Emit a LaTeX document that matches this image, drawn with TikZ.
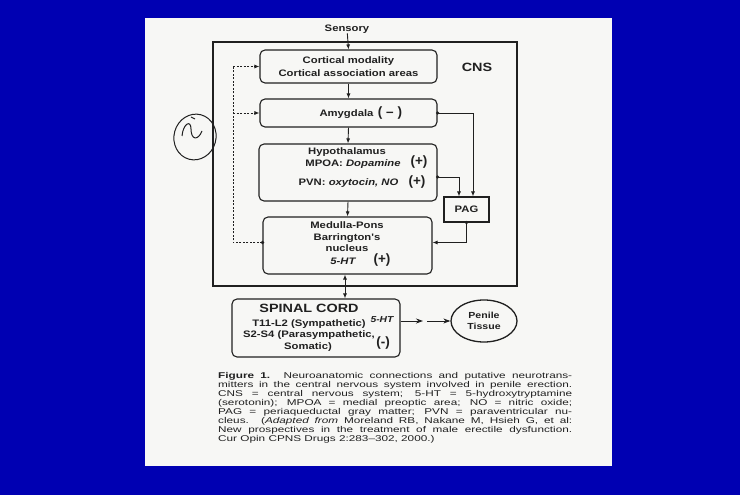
\documentclass[tikz,border=0pt]{standalone}
\usepackage{fontspec}
\setmainfont{Liberation Sans}
\newfontfamily\dfont{Liberation Sans}[FakeStretch=1.2]
\newfontfamily\capfont{Liberation Sans}[FakeStretch=1.4]
\usetikzlibrary{arrows.meta,shapes.geometric}
\definecolor{slideblue}{RGB}{0,0,178}
\definecolor{paper}{RGB}{247,247,245}
\definecolor{ink}{RGB}{32,32,32}
\tikzset{
  rbox/.style={draw=ink, line width=1.1pt, rounded corners=5pt, inner sep=0pt},
  sbox/.style={draw=ink, line width=1.1pt, inner sep=0pt},
  txt/.style={font=\dfont\bfseries\fontsize{9.4}{13}\selectfont, text=ink, inner sep=0pt, align=center},
  hand/.style={font=\bfseries\fontsize{13.5}{13.5}\selectfont, text=ink, inner sep=0pt},
  conn/.style={draw=ink, line width=0.9pt},
  arr/.style={conn, -{Latex[length=5pt,width=4pt]}},
  arrb/.style={conn, {Latex[length=5pt,width=4pt]}-{Latex[length=5pt,width=4pt]}},
  sarr/.style={conn, -{Stealth[length=7pt,width=5pt]}},
  darr/.style={conn, line width=0.8pt, dash pattern=on 2pt off 1.5pt, -{Latex[length=5pt,width=4pt]}},
  dline/.style={conn, line width=0.8pt, dash pattern=on 2pt off 1.5pt},
  dotc/.style={circle, fill=ink, inner sep=0pt, minimum size=3.6pt},
}
\begin{document}
\begin{tikzpicture}[x=1pt,y=-1pt]
\useasboundingbox (0,0) rectangle (740,495);
\fill[slideblue] (0,0) rectangle (740,495);
\fill[paper] (145,18) rectangle (612,466);

% CNS frame
\node[sbox, line width=2pt, minimum width=304pt, minimum height=244pt] (cns) at (365,164) {};
\node[txt, font=\dfont\bfseries\fontsize{12}{12}\selectfont] (cnslbl) at (477,67) {CNS};

% boxes
\node[txt] (sens) at (347,29) {Sensory};
\node[rbox, txt, minimum width=177pt, minimum height=33pt] (cort) at (348.5,66.5) {Cortical modality\\Cortical association areas};
\node[rbox, minimum width=177pt, minimum height=28pt] (amyg) at (348.5,113) {};
\node[rbox, minimum width=178pt, minimum height=57pt] (hypo) at (348,172.5) {};
\node[rbox, minimum width=169pt, minimum height=57pt] (med) at (347.5,245.5) {};
\node[sbox, txt, minimum width=45pt, minimum height=25pt] (pag) at (466.5,209.5) {PAG};
\node[rbox, minimum width=168pt, minimum height=58pt] (spinal) at (316,328) {};
\node[ellipse, draw=ink, line width=1.3pt, minimum width=66pt, minimum height=42pt, inner sep=0pt,
      txt, font=\dfont\bfseries\fontsize{8.8}{11}\selectfont] (pen) at (484,321) {Penile\\Tissue};

% texts inside boxes
\node[txt, anchor=mid] (amygt) at (346.5,114) {Amygdala};
\node[hand, anchor=mid] (amygh) at (390,114) {(\kern4pt–\kern4pt)};

\node[txt, anchor=mid] (hypot1) at (347,152) {Hypothalamus};
\node[txt, anchor=mid] (hypot2) at (353,164) {MPOA: \itshape Dopamine};
\node[txt, anchor=mid] (hypot3) at (348.5,183) {PVN: \itshape oxytocin, NO};
\node[hand, anchor=mid] (hypoh1) at (419,163) {(+)};
\node[hand, anchor=mid] (hypoh2) at (417,183) {(+)};

\node[txt, anchor=mid] (medt1) at (347,226) {Medulla-Pons};
\node[txt, anchor=mid] (medt2) at (347,238) {Barrington's};
\node[txt, anchor=mid] (medt3) at (347,249) {nucleus};
\node[txt, anchor=mid] (medt4) at (343,262) {\itshape 5-HT};
\node[hand, anchor=mid] (medh) at (382,261) {(+)};

\node[txt, anchor=mid, font=\dfont\bfseries\fontsize{12}{12}\selectfont] (spt1) at (309,310) {SPINAL CORD};
\node[txt, anchor=mid] (spt2) at (309,324) {T11-L2 (Sympathetic)};
\node[txt, anchor=mid] (spt3) at (309,335) {S2-S4 (Parasympathetic,};
\node[txt, anchor=mid] (spt4) at (308,347) {Somatic)};
\node[txt, anchor=mid, font=\dfont\bfseries\itshape\fontsize{8.6}{10}\selectfont] (sp5ht) at (382,320) {5-HT};
\node[hand, anchor=mid] (sph) at (383,344) {(-)};

% main vertical connectors
\draw[arr] (sens) -- (cort.north);
\draw[arr] (cort.south) -- (amyg.north);
\draw[arr] (amyg.south) -- (hypo.north);
\draw[arr] (hypo.south) -- (med.north);
\draw[arrb] ([xshift=-2.5pt]med.south) -- ([xshift=-2.5pt]med.south |- spinal.north);

% right side to PAG
\draw[arr] (amyg.east) -| ([xshift=6.5pt]pag.north);
\node[dotc] (d1) at (amyg.east) {};
\draw[arr] ([yshift=-4.5pt]hypo.east) -| ([xshift=-7.5pt]pag.north);
\node[dotc] (d2) at ([yshift=-4.5pt]hypo.east) {};
\draw[arr] (pag.south) |- ([yshift=3pt]med.east);
\node[dotc] (d3) at (pag.south) {};

% left dashed feedback
\coordinate (fbtop) at (233,66.5);
\coordinate (fbmid) at (233,113);
\draw[dline] ([yshift=3pt]med.west) -| (fbtop);
\draw[darr] (fbtop) -- (cort.west);
\draw[darr] (fbmid) -- (amyg.west);
\node[dotc] (d4) at ([yshift=3pt]med.west) {};

% spinal cord to penile tissue
\coordinate (m1) at (423,321);
\coordinate (m2) at (427,321);
\draw[sarr] ([yshift=7pt]spinal.east) -- (m1);
\draw[sarr] (m2) -- (pen.west);

% handwritten circled mark
\draw[ink, line width=1pt, rotate around={-15:(195,137)}] (195,137) ellipse [x radius=21pt, y radius=23pt];
\draw[ink, line width=1pt] (182,136) .. controls (183,124) and (191,119) .. (191,129)
   .. controls (191,140) and (198,141) .. (202,131);
\draw[ink, line width=1pt] (191,117) -- (195,119);

% caption
\node[anchor=north west, text width=354pt, inner sep=0pt, text=ink, align=justify,
      font=\capfont\fontsize{8.4}{9}\selectfont] (cap) at (218,372)
{\tolerance=10000\hbadness=10000\hfuzz=20pt\hyphenpenalty=10000\noindent
\textbf{Figure 1.} Neuroanatomic connections and putative neurotrans-\linebreak
mitters in the central nervous system involved in penile erection.\linebreak
CNS = central nervous system; 5-HT = 5-hydroxytryptamine\linebreak
(serotonin); MPOA = medial preoptic area; NO = nitric oxide;\linebreak
PAG = periaqueductal gray matter; PVN = paraventricular nu-\linebreak
cleus. (\textit{Adapted from} Moreland RB, Nakane M, Hsieh G, et al:\linebreak
New prospectives in the treatment of male erectile dysfunction.\linebreak
Cur Opin CPNS Drugs 2:283–302, 2000.)\par};
\end{tikzpicture}
\end{document}
